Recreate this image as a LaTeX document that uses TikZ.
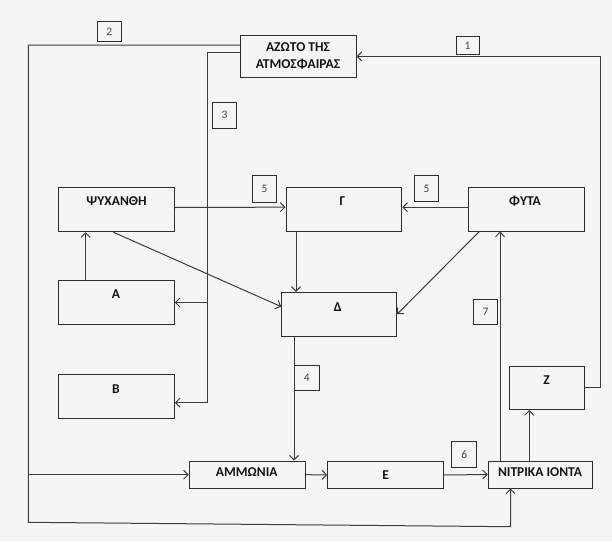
\documentclass[tikz,border=0pt]{standalone}
\usepackage{fontspec}
\setmainfont{Carlito}
\usetikzlibrary{arrows.meta}
\definecolor{bg}{RGB}{245,245,245}
\definecolor{ink}{RGB}{45,45,45}
\definecolor{lnc}{RGB}{60,60,60}
\definecolor{numc}{RGB}{70,70,70}
\tikzset{
  box/.style={draw=ink, line width=1pt, inner sep=0pt, rectangle},
  numbox/.style={draw=ink, line width=0.8pt, inner sep=0pt, rectangle, font=\fontsize{11.5}{13}\selectfont, text=numc},
  txt/.style={inner sep=0pt, font=\fontsize{13.5}{15.5}\selectfont\bfseries, text=black!92, text height=8.6pt, text depth=0pt},
  ln/.style={draw=lnc, line width=1pt},
  arr/.style={ln, -{Straight Barb[length=4.5pt,width=9pt]}}
}
\begin{document}
\begin{tikzpicture}[x=1pt, y=-1pt]
\fill[bg] (0,0) rectangle (612,541);
\useasboundingbox (0,0) rectangle (612,541);

% boxes
\node[box, minimum width=115.3pt, minimum height=42.7pt] (atmos) at (298.35,56.35) {};
\node[box, minimum width=115.6pt, minimum height=44.4pt] (psy) at (116.5,209.5) {};
\node[box, minimum width=115.6pt, minimum height=43.6pt] (a) at (116.5,302.5) {};
\node[box, minimum width=115.6pt, minimum height=43.5pt] (b) at (116.5,396.5) {};
\node[box, minimum width=115.7pt, minimum height=43.7pt] (g) at (343.85,209.15) {};
\node[box, minimum width=115pt, minimum height=43.7pt] (d) at (339.2,314.15) {};
\node[box, minimum width=115.7pt, minimum height=43.7pt] (f) at (526.15,209.15) {};
\node[box, minimum width=74.5pt, minimum height=43.2pt] (z) at (546.75,387.9) {};
\node[box, minimum width=115.7pt, minimum height=27.3pt] (amm) at (247.15,474.65) {};
\node[box, minimum width=115.6pt, minimum height=26.6pt] (e) at (385.5,475) {};
\node[box, minimum width=104.2pt, minimum height=27pt] (nit) at (540.4,474.5) {};

% texts
\node[txt, align=center, text height=, text depth=, font=\fontsize{13.5}{17}\selectfont\bfseries] (atmost) at (298,55.8) {ΑΖΩΤΟ ΤΗΣ\\ΑΤΜΟΣΦΑΙΡΑΣ};
\node[txt] (psyt) at (116.5,201) {ΨΥΧΑΝΘΗ};
\node[txt] (at) at (116,294.3) {Α};
\node[txt] (bt) at (116,389) {Β};
\node[txt] (gt) at (342.3,201) {Γ};
\node[txt] (dt) at (337.7,306.7) {Δ};
\node[txt] (ft) at (525,201) {ΦΥΤΑ};
\node[txt] (zt) at (546.5,380) {Ζ};
\node[txt] (ammt) at (246.7,471.7) {ΑΜΜΩΝΙΑ};
\node[txt] (et) at (385.7,475) {Ε};
\node[txt] (nitt) at (540,471.7) {ΝΙΤΡΙΚΑ ΙΟΝΤΑ};

% number boxes
\node[numbox, minimum width=23pt, minimum height=17.5pt] (n1) at (467.5,45.3) {1};
\node[numbox, minimum width=23.4pt, minimum height=20pt] (n2) at (109.3,31.5) {2};
\node[numbox, minimum width=24.4pt, minimum height=26pt] (n3) at (224.5,115.3) {3};
\node[numbox, minimum width=25.3pt, minimum height=25.3pt] (n4) at (306.7,377.7) {4};
\node[numbox, minimum width=23.8pt, minimum height=26.6pt] (n5a) at (264.6,189) {5};
\node[numbox, minimum width=24.4pt, minimum height=26pt] (n5b) at (426.5,188.7) {5};
\node[numbox, minimum width=25pt, minimum height=25.6pt] (n6) at (464.2,454.5) {6};
\node[numbox, minimum width=24.4pt, minimum height=25pt] (n7) at (485.5,311.8) {7};

% helper coordinates
\coordinate (L2c) at (28.3,522.3);
\coordinate (L2d) at (510.5,526.7);
\coordinate (L3c) at (207.3,402.7);
\coordinate (R1) at (600,0);
\coordinate (XA) at (85.7,0);
\coordinate (XP) at (113.3,0);
\coordinate (XG) at (296,0);
\coordinate (XF) at (479.3,0);
\coordinate (XD) at (294,0);
\coordinate (XZ) at (529.3,0);
\coordinate (X7) at (500,0);

% line 2
\draw[arr] ([yshift=11.3pt]atmos.west) -| (L2c) -- (L2d) -- (L2d |- nit.south);
\draw[arr] (L2c |- amm.west) -- (amm.west);
% line 3
\draw[arr] ([yshift=4pt]atmos.west) -| (L3c) -- (L3c -| b.east);
\draw[arr] (L3c |- a.east) -- (a.east);
% line 1
\draw[arr] (z.east) -| (R1 |- atmos.east) -- (atmos.east);

% others
\draw[arr] ([yshift=2pt]psy.east) -- ([yshift=2pt]g.west);
\draw[arr] ([yshift=2pt]f.west) -- ([yshift=2pt]g.east);
\draw[arr] (a.north -| XA) -- (psy.south -| XA);
\draw[arr] (psy.south -| XP) -- ([yshift=7.5pt]d.west);
\draw[arr] (g.south -| XG) -- (d.north -| XG);
\draw[arr] (f.south -| XF) -- (d.east);
\draw[arr] (d.south -| XD) -- (amm.north -| XD);
\draw[arr] (amm.east) -- (e.west);
\draw[arr] (e.east) -- (nit.west);
\draw[arr] (nit.north -| XZ) -- (z.south -| XZ);
\draw[arr] (nit.north -| X7) -- (f.south -| X7);
\end{tikzpicture}
\end{document}
